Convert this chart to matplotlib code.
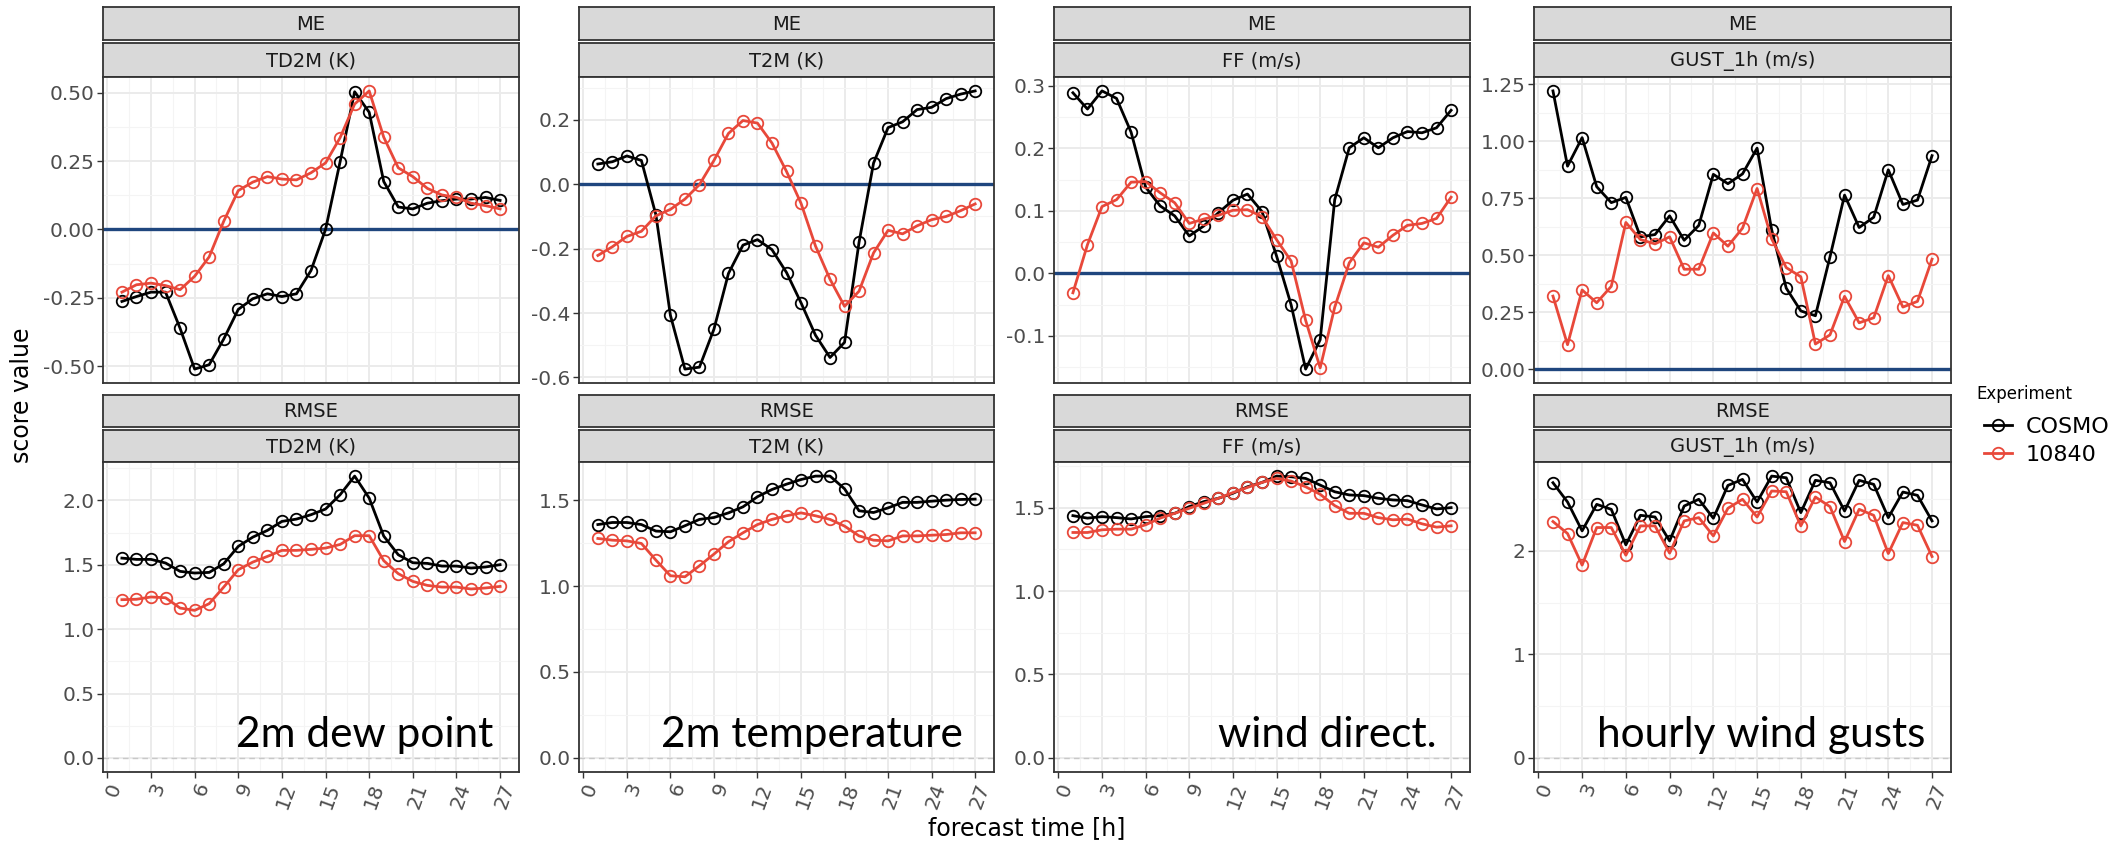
import matplotlib.pyplot as plt
import numpy as np
from matplotlib.lines import Line2D

# forecast lead time [h]
lead_hours = list(range(1, 28))
x_ticks = [0, 3, 6, 9, 12, 15, 18, 21, 24, 27]

# ---- ME ----
me_td2m_cosmo = [-0.263, -0.245, -0.229, -0.229, -0.361, -0.51, -0.494, -0.40, -0.292, -0.253,
                 -0.235, -0.245, -0.235, -0.15, 0.0, 0.247, 0.503, 0.428, 0.175, 0.082,
                 0.075, 0.096, 0.105, 0.111, 0.111, 0.117, 0.106]
me_td2m_10840 = [-0.229, -0.202, -0.196, -0.205, -0.22, -0.171, -0.1, 0.03, 0.142, 0.173,
                 0.193, 0.184, 0.181, 0.207, 0.243, 0.335, 0.458, 0.506, 0.337, 0.225,
                 0.193, 0.15, 0.126, 0.117, 0.096, 0.087, 0.075]
me_t2m_cosmo = [0.063, 0.07, 0.088, 0.074, -0.095, -0.407, -0.574, -0.568, -0.45, -0.277,
                -0.189, -0.172, -0.203, -0.274, -0.368, -0.469, -0.538, -0.491, -0.18, 0.066,
                0.176, 0.194, 0.232, 0.239, 0.266, 0.28, 0.29]
me_t2m_10840 = [-0.221, -0.194, -0.162, -0.146, -0.098, -0.078, -0.046, -0.001, 0.074, 0.158,
                0.198, 0.19, 0.128, 0.04, -0.059, -0.192, -0.295, -0.379, -0.332, -0.213,
                -0.143, -0.154, -0.129, -0.11, -0.1, -0.082, -0.061]
me_ff_cosmo = [0.289, 0.263, 0.292, 0.28, 0.226, 0.138, 0.108, 0.092, 0.06, 0.076,
               0.097, 0.117, 0.127, 0.099, 0.028, -0.05, -0.153, -0.106, 0.118, 0.201,
               0.217, 0.201, 0.217, 0.227, 0.225, 0.233, 0.261]
me_ff_10840 = [-0.031, 0.046, 0.107, 0.118, 0.146, 0.147, 0.129, 0.113, 0.08, 0.087,
               0.093, 0.101, 0.102, 0.091, 0.054, 0.02, -0.075, -0.151, -0.054, 0.017,
               0.049, 0.042, 0.061, 0.077, 0.08, 0.088, 0.122]
me_gust_cosmo = [1.22, 0.89, 1.015, 0.80, 0.73, 0.753, 0.58, 0.59, 0.672, 0.565,
                 0.63, 0.854, 0.813, 0.856, 0.969, 0.611, 0.355, 0.255, 0.234, 0.492,
                 0.763, 0.621, 0.666, 0.874, 0.722, 0.741, 0.936]
me_gust_10840 = [0.32, 0.107, 0.347, 0.291, 0.363, 0.643, 0.568, 0.549, 0.58, 0.438,
                 0.438, 0.597, 0.539, 0.618, 0.792, 0.571, 0.445, 0.405, 0.11, 0.15,
                 0.319, 0.203, 0.225, 0.41, 0.272, 0.297, 0.482]

# ---- RMSE ----
rmse_td2m_cosmo = [1.552, 1.542, 1.542, 1.514, 1.449, 1.436, 1.441, 1.508, 1.643, 1.715,
                   1.767, 1.837, 1.855, 1.889, 1.933, 2.044, 2.189, 2.018, 1.723, 1.578,
                   1.516, 1.511, 1.49, 1.49, 1.475, 1.483, 1.501]
rmse_td2m_10840 = [1.229, 1.232, 1.25, 1.244, 1.164, 1.146, 1.198, 1.327, 1.462, 1.521,
                   1.565, 1.612, 1.612, 1.62, 1.63, 1.658, 1.726, 1.726, 1.532, 1.431,
                   1.371, 1.34, 1.327, 1.327, 1.312, 1.32, 1.332]
rmse_t2m_cosmo = [1.358, 1.37, 1.37, 1.358, 1.32, 1.316, 1.351, 1.388, 1.399, 1.426,
                  1.461, 1.52, 1.562, 1.593, 1.62, 1.64, 1.64, 1.566, 1.438, 1.428,
                  1.455, 1.487, 1.487, 1.494, 1.5, 1.504, 1.506]
rmse_t2m_10840 = [1.277, 1.267, 1.263, 1.248, 1.151, 1.06, 1.054, 1.118, 1.186, 1.258,
                  1.31, 1.358, 1.388, 1.409, 1.426, 1.409, 1.388, 1.349, 1.292, 1.267,
                  1.263, 1.292, 1.292, 1.296, 1.3, 1.31, 1.31]
rmse_ff_cosmo = [1.452, 1.437, 1.446, 1.44, 1.432, 1.446, 1.452, 1.466, 1.506, 1.536,
                 1.556, 1.586, 1.625, 1.651, 1.689, 1.685, 1.675, 1.635, 1.595, 1.576,
                 1.572, 1.556, 1.546, 1.542, 1.516, 1.492, 1.5]
rmse_ff_10840 = [1.351, 1.351, 1.367, 1.371, 1.371, 1.397, 1.437, 1.466, 1.496, 1.526,
                 1.556, 1.59, 1.621, 1.651, 1.675, 1.659, 1.625, 1.58, 1.512, 1.466,
                 1.466, 1.44, 1.427, 1.431, 1.403, 1.383, 1.391]
rmse_gust_cosmo = [2.658, 2.472, 2.193, 2.449, 2.401, 2.058, 2.343, 2.327, 2.096, 2.433,
                   2.498, 2.315, 2.632, 2.69, 2.472, 2.722, 2.706, 2.369, 2.681, 2.658,
                   2.385, 2.681, 2.642, 2.321, 2.568, 2.536, 2.289]
rmse_gust_10840 = [2.283, 2.167, 1.862, 2.225, 2.225, 1.958, 2.241, 2.241, 1.978, 2.289,
                   2.321, 2.144, 2.411, 2.498, 2.327, 2.578, 2.571, 2.241, 2.52, 2.427,
                   2.09, 2.401, 2.343, 1.974, 2.273, 2.247, 1.945]

variables = ['TD2M (K)', 'T2M (K)', 'FF (m/s)', 'GUST_1h (m/s)']
notes = ['2m dew point', '2m temperature', 'wind direct.', 'hourly wind gusts']
me_yticks = [[-0.5, -0.25, 0, 0.25, 0.5], [-0.6, -0.4, -0.2, 0.0, 0.2],
             [-0.1, 0.0, 0.1, 0.2, 0.3], [0, 0.25, 0.5, 0.75, 1.0, 1.25]]
me_ylabels = [['-0.50', '-0.25', '0.00', '0.25', '0.50'], ['-0.6', '-0.4', '-0.2', '0.0', '0.2'],
              ['-0.1', '0.0', '0.1', '0.2', '0.3'], ['0.00', '0.25', '0.50', '0.75', '1.00', '1.25']]
rmse_yticks = [[0, 0.5, 1.0, 1.5, 2.0], [0, 0.5, 1.0, 1.5], [0, 0.5, 1.0, 1.5], [0, 1, 2]]
rmse_ylabels = [['0.0', '0.5', '1.0', '1.5', '2.0'], ['0.0', '0.5', '1.0', '1.5'],
                ['0.0', '0.5', '1.0', '1.5'], ['0', '1', '2']]

me_cosmo = [me_td2m_cosmo, me_t2m_cosmo, me_ff_cosmo, me_gust_cosmo]
me_exp = [me_td2m_10840, me_t2m_10840, me_ff_10840, me_gust_10840]
rmse_cosmo = [rmse_td2m_cosmo, rmse_t2m_cosmo, rmse_ff_cosmo, rmse_gust_cosmo]
rmse_exp = [rmse_td2m_10840, rmse_t2m_10840, rmse_ff_10840, rmse_gust_10840]

W, H = 2121, 843
RED = '#E8483A'
NAVY = '#1F467E'
LW, MS, MEW = 2.0, 8.3, 1.3
cols = [(103, 519), (579, 994), (1054, 1470), (1534, 1951)]

fig = plt.figure(figsize=(W / 100, H / 100), dpi=100)


def px_axes(x0, x1, y0, y1):
    return fig.add_axes([x0 / W, 1 - y1 / H, (x1 - x0) / W, (y1 - y0) / H])


def strip(x0, x1, y0, y1, label):
    s = px_axes(x0, x1, y0, y1)
    s.set_facecolor('#D9D9D9')
    s.set_xticks([])
    s.set_yticks([])
    for sp in s.spines.values():
        sp.set_color('#333333')
        sp.set_linewidth(1.3)
    s.text(0.5, 0.47, label, ha='center', va='center', fontsize=14, color='#1A1A1A',
           transform=s.transAxes)


def panel(ax, cosmo, exp, yticks, ylabels, zero_style, bottom):
    ax.set_xticks(x_ticks)
    ax.set_xticks(np.arange(1.5, 28, 3), minor=True)
    ax.set_yticks(yticks)
    ax.set_yticklabels(ylabels)
    step = yticks[1] - yticks[0]
    ax.set_yticks([t + step / 2 for t in [yticks[0] - step] + yticks], minor=True)
    # ggplot-style 5 % expansion, zero line included
    vals = cosmo + exp + [0.0]
    lo, hi = min(vals), max(vals)
    pad = 0.05 * (hi - lo)
    ax.set_ylim(lo - pad, hi + pad)
    ax.set_xlim(-0.3, 28.3)
    ax.grid(which='major', color='#EBEBEB', linewidth=1.4, zorder=0)
    ax.grid(which='minor', color='#F4F4F4', linewidth=0.8, zorder=0)
    ax.set_axisbelow(True)
    for sp in ax.spines.values():
        sp.set_color('#333333')
        sp.set_linewidth(1.3)
    ax.tick_params(axis='y', which='major', length=4, width=1, color='#333333',
                   labelsize=14.5, labelcolor='#4D4D4D', pad=2)
    ax.tick_params(which='minor', length=0)
    if bottom:
        ax.tick_params(axis='x', which='major', length=4, width=1, color='#333333',
                       labelsize=14.5, labelcolor='#4D4D4D', pad=2)
        ax.set_xticklabels([str(t) for t in x_ticks], rotation=70, ha='right',
                           va='top', rotation_mode='anchor')
    else:
        ax.tick_params(axis='x', which='major', length=0, labelbottom=False)
    if zero_style == 'solid':
        ax.axhline(0, color=NAVY, linewidth=2.4, zorder=2)
    else:
        ax.axhline(0, color='#C8C8C8', linewidth=1.0, linestyle=(0, (4, 3)), zorder=1)
    ax.plot(lead_hours, cosmo, color='black', linewidth=LW, marker='o', markersize=MS,
            markerfacecolor='none', markeredgewidth=MEW, zorder=3)
    ax.plot(lead_hours, exp, color=RED, linewidth=LW, marker='o', markersize=MS,
            markerfacecolor='none', markeredgewidth=MEW, zorder=4)


for i, (x0, x1) in enumerate(cols):
    # top row: ME
    strip(x0, x1, 7.5, 40, 'ME')
    strip(x0, x1, 42.5, 77, variables[i])
    ax = px_axes(x0, x1, 77, 383)
    panel(ax, me_cosmo[i], me_exp[i], me_yticks[i], me_ylabels[i], 'solid', False)
    # bottom row: RMSE
    strip(x0, x1, 395, 427, 'RMSE')
    strip(x0, x1, 429.5, 462, variables[i])
    ax = px_axes(x0, x1, 462, 772)
    panel(ax, rmse_cosmo[i], rmse_exp[i], rmse_yticks[i], rmse_ylabels[i], 'dashed', True)

# annotations added on top of the panels
note_x = [365, 812, 1327, 1761]
for nx, txt in zip(note_x, notes):
    fig.text(nx / W, 1 - 747 / H, txt, ha='center', va='baseline', fontsize=30.5,
             family='Lato', color='black')

fig.text(22 / W, 1 - 395 / H, 'score value', rotation=90, ha='center', va='center',
         fontsize=17, color='black')
fig.text(1027 / W, 1 - 828 / H, 'forecast time [h]', ha='center', va='center',
         fontsize=17, color='black')

# legend
fig.text(1976 / W, 1 - 394 / H, 'Experiment', ha='left', va='center', fontsize=12,
         color='black')
handles = [Line2D([], [], color='black', marker='o', markerfacecolor='none', linewidth=LW,
                  markersize=MS, markeredgewidth=MEW),
           Line2D([], [], color=RED, marker='o', markerfacecolor='none', linewidth=LW,
                  markersize=MS, markeredgewidth=MEW)]
fig.legend(handles, ['COSMO', '10840'], loc='upper left',
           bbox_to_anchor=(1968 / W, 1 - 401 / H), frameon=False, fontsize=16,
           handlelength=1.3, handletextpad=0.6, labelspacing=0.38, borderpad=0.2)

fig.savefig('out.png', dpi=100)
